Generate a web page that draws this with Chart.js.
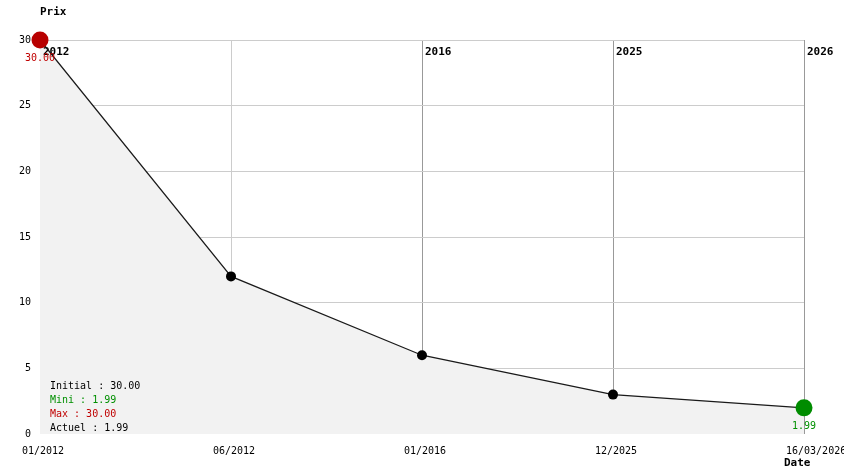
<!DOCTYPE html>
<html>
<head>
<meta charset="utf-8">
<script src="https://cdn.jsdelivr.net/npm/chart.js@4/dist/chart.umd.min.js"></script>
<style>
html,body{margin:0;padding:0;background:#fff;}
#wrap{width:844px;height:474px;position:relative;}
</style>
</head>
<body>
<div id="wrap"><canvas id="c" width="844" height="474"></canvas></div>
<script>
// ---- data ----
const categories = ['01/2012', '06/2012', '01/2016', '12/2025', '16/03/2026'];
const prices = [30, 12, 6, 3, 1.99];
const yearLabelIndex = [0, 2, 3, 4];
const yearLabels = ['2012', '2016', '2025', '2026'];
const summaryLabels = ['Initial : 30.00', 'Mini : 1.99', 'Max : 30.00', 'Actuel : 1.99'];
const yMin = 0, yMax = 30, yStep = 5;
const axisTitleY = 'Prix';
const axisTitleX = 'Date';

const RED = '#b80000', GREEN = '#008c00';
const TXT_RED = '#c00000', TXT_GREEN = '#009000';
const MONO = '"DejaVu Sans Mono", "Liberation Mono", monospace';

const maxIdx = prices.indexOf(Math.max(...prices));
const minIdx = prices.lastIndexOf(Math.min(...prices));

const pointColors = prices.map((v, i) => i === maxIdx ? RED : (i === minIdx ? GREEN : '#000'));
const pointRadii = prices.map((v, i) => (i === maxIdx || i === minIdx) ? 8.5 : 5);

const decor = {
  id: 'decor',
  beforeDatasetsDraw(chart) {
    const ctx = chart.ctx, x = chart.scales.x;
    ctx.save();
    ctx.font = 'bold 11px ' + MONO;
    ctx.fillStyle = '#000';
    ctx.textAlign = 'left';
    ctx.textBaseline = 'middle';
    yearLabelIndex.forEach((idx, k) => {
      ctx.fillText(yearLabels[k], x.getPixelForValue(idx) + 3, chart.chartArea.top + 12);
    });
    ctx.restore();
  },
  afterDatasetsDraw(chart) {
    const ctx = chart.ctx, x = chart.scales.x, y = chart.scales.y, ca = chart.chartArea;
    ctx.save();
    ctx.textBaseline = 'middle';
    // y tick labels
    ctx.font = '10px ' + MONO;
    ctx.fillStyle = '#000';
    ctx.textAlign = 'right';
    y.ticks.forEach(t => ctx.fillText(String(t.value), ca.left - 9, y.getPixelForValue(t.value)));
    // x tick labels
    ctx.textAlign = 'left';
    categories.forEach((c, i) => ctx.fillText(c, x.getPixelForValue(i) - 18, ca.bottom + 17));
    // value labels under extreme points
    ctx.textAlign = 'center';
    ctx.fillStyle = TXT_RED;
    ctx.fillText(prices[maxIdx].toFixed(2), x.getPixelForValue(maxIdx), y.getPixelForValue(prices[maxIdx]) + 18);
    ctx.fillStyle = TXT_GREEN;
    ctx.fillText(prices[minIdx].toFixed(2), x.getPixelForValue(minIdx), y.getPixelForValue(prices[minIdx]) + 19);
    // summary
    ctx.textAlign = 'left';
    const colors = ['#000', TXT_GREEN, TXT_RED, '#000'];
    summaryLabels.forEach((s, i) => {
      ctx.fillStyle = colors[i];
      ctx.fillText(s, ca.left + 10, ca.bottom - 48 + 14 * i);
    });
    // axis titles
    ctx.font = 'bold 11px ' + MONO;
    ctx.fillStyle = '#000';
    ctx.fillText(axisTitleY, ca.left, ca.top - 28);
    ctx.fillText(axisTitleX, ca.right - 20, ca.bottom + 29);
    ctx.restore();
  }
};

new Chart(document.getElementById('c'), {
  type: 'line',
  data: {
    labels: categories,
    datasets: [{
      data: prices,
      borderColor: '#1a1a1a',
      borderWidth: 1.2,
      fill: 'origin',
      backgroundColor: '#f2f2f2',
      pointBackgroundColor: pointColors,
      pointBorderWidth: 0,
      pointRadius: pointRadii,
      tension: 0,
      clip: false
    }]
  },
  options: {
    responsive: false,
    animation: false,
    layout: { padding: { left: 40, right: 40, top: 40, bottom: 40 } },
    plugins: {
      legend: { display: false },
      tooltip: { enabled: false },
      filler: { drawTime: 'beforeDatasetsDraw' }
    },
    scales: {
      x: {
        type: 'category',
        offset: false,
        ticks: { display: false },
        border: { display: false },
        grid: {
          drawTicks: false,
          color: ctx => {
            const i = ctx.index;
            if (i === 0) return 'rgba(0,0,0,0)';
            return yearLabelIndex.includes(i) ? '#999' : '#ccc';
          }
        },
        afterFit: s => { s.height = 0; }
      },
      y: {
        min: yMin, max: yMax,
        ticks: { display: false, stepSize: yStep },
        border: { display: false },
        grid: {
          drawTicks: false,
          color: ctx => (ctx.tick && ctx.tick.value === yMin) ? 'rgba(0,0,0,0)' : '#ccc'
        },
        afterFit: s => { s.width = 0; }
      }
    }
  },
  plugins: [decor]
});
</script>
</body>
</html>
